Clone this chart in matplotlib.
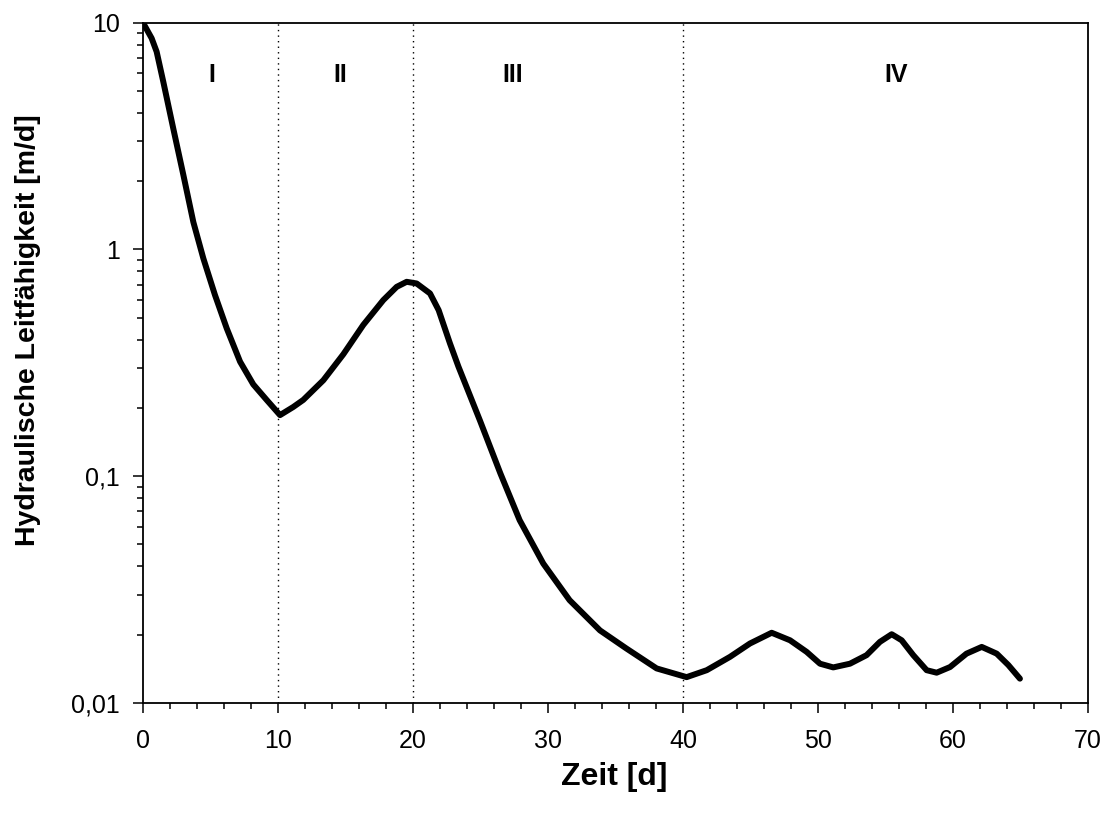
import matplotlib
matplotlib.use('Agg')
import matplotlib.pyplot as plt
from matplotlib.ticker import FixedLocator, FixedFormatter, LogLocator, MultipleLocator, NullFormatter

plt.rcParams['font.family'] = ['Liberation Sans', 'DejaVu Sans']

# Zeit [d] and hydraulic conductivity [m/d]
zeit = [0, 0.64, 1.01, 1.50, 2.24, 2.99, 3.73, 4.47, 5.33, 6.2, 7.19, 8.17,
        9.16, 10.15, 11.13, 11.87, 13.36, 14.84, 16.32, 17.8, 18.79, 19.53,
        20.27, 21.26, 21.9, 22.74, 23.36, 24.96, 26.47, 27.9, 29.65, 31.6,
        33.85, 35.8, 38.05, 40.27, 41.76, 43.48, 44.96, 46.57, 47.93, 49.16,
        50.15, 51.13, 52.37, 53.6, 54.59, 55.46, 56.2, 57.06, 58.05, 58.79,
        59.78, 61.0, 62.13, 63.24, 64.1, 64.96]
kf = [10.0, 8.54, 7.45, 5.50, 3.42, 2.13, 1.32, 0.913, 0.63, 0.449, 0.32, 0.254,
      0.217, 0.186, 0.202, 0.217, 0.265, 0.345, 0.465, 0.598, 0.684, 0.72,
      0.708, 0.64, 0.54, 0.385, 0.305, 0.176, 0.103, 0.064, 0.0412, 0.0284,
      0.0209, 0.0174, 0.0142, 0.0130, 0.01395, 0.01597, 0.01829, 0.0204, 0.0189, 0.0168,
      0.0149, 0.01435, 0.0149, 0.01625, 0.0186, 0.0201, 0.0189, 0.01625, 0.01395, 0.0136,
      0.0144, 0.0165, 0.01767, 0.0165, 0.0147, 0.0128]

phase_bounds = [10, 20, 40]
phase_names = ["I", "II", "III", "IV"]
phase_x = [5.1, 14.6, 27.4, 55.8]

y_ticks = [0.01, 0.1, 1, 10]
y_labels = ["0,01", "0,1", "1", "10"]

fig = plt.figure(figsize=(11.06, 8.14), dpi=100)
ax = fig.add_axes([0.1293, 0.1364, 0.8544, 0.8357])

for b in phase_bounds:
    ax.axvline(b, color="black", linestyle=(0, (1, 3)), linewidth=1.0)

ax.plot(zeit, kf, color="black", linewidth=4.3, solid_capstyle="round",
        solid_joinstyle="round")

for name, xp in zip(phase_names, phase_x):
    ax.text(xp, 5.9, name, ha="center", va="center", fontsize=18, fontweight="bold")

ax.set_yscale("log")
ax.set_xlim(0, 70)
ax.set_ylim(0.01, 10)

ax.xaxis.set_major_locator(MultipleLocator(10))
ax.xaxis.set_minor_locator(MultipleLocator(2))
ax.yaxis.set_major_locator(FixedLocator(y_ticks))
ax.yaxis.set_major_formatter(FixedFormatter(y_labels))
ax.yaxis.set_minor_locator(LogLocator(base=10, subs=range(2, 10)))
ax.yaxis.set_minor_formatter(NullFormatter())

ax.tick_params(which="major", direction="out", length=7.5, width=1.1, labelsize=18)
ax.tick_params(which="minor", direction="out", length=4.5, width=1.1)
ax.tick_params(axis="x", which="major", pad=11)
ax.tick_params(axis="y", which="major", pad=9)

for sp in ax.spines.values():
    sp.set_linewidth(1.3)

fig.text(614.5 / 1106, 1 - 777 / 814, "Zeit [d]", fontsize=23, fontweight="bold",
         ha="center", va="center")
fig.text(28 / 1106, 1 - 330 / 814, "Hydraulische Leitfähigkeit [m/d]", fontsize=20.5,
         fontweight="bold", ha="center", va="center", rotation=90)

fig.savefig("out.png", dpi=100)
